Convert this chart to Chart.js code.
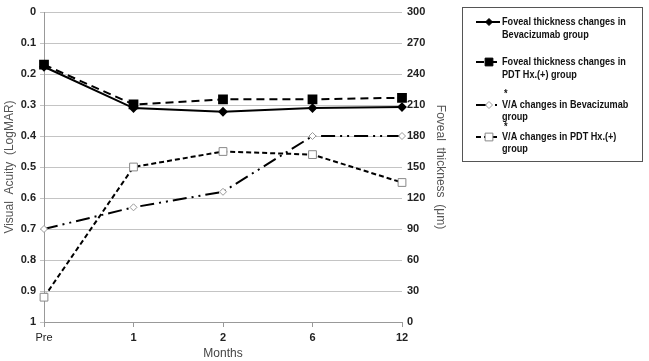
<!DOCTYPE html>
<html><head><meta charset="utf-8">
<script src="https://cdn.jsdelivr.net/npm/chart.js@4.4.0/dist/chart.umd.min.js"></script>
<style>html,body{margin:0;padding:0;background:#fff}#wrap{position:relative;width:649px;height:361px}</style>
</head><body><div id="wrap"><canvas id="c" width="649" height="361"></canvas></div>
<script>
const categories = ['Pre', '1', '2', '6', '12'];
const ftBevacizumab = [247, 207, 203.5, 207, 208];
const ftPDT = [249, 210.5, 215.5, 215.5, 217];
const vaBevacizumab = [0.70, 0.63, 0.58, 0.40, 0.40];
const vaPDT = [0.92, 0.50, 0.45, 0.46, 0.55];
const legendLines = [
  ['Foveal thickness changes in', 'Bevacizumab group'],
  ['Foveal thickness changes in', 'PDT Hx.(+) group'],
  ['*', 'V/A changes in Bevacizumab', 'group'],
  ['*', 'V/A changes in PDT Hx.(+)', 'group']
];

const tickFont = {family: '"Liberation Sans", Arial', size: 11, weight: 'bold'};
const titleFont = {family: '"Liberation Sans", Arial', size: 12};

const legendPlugin = {
  id: 'boxLegend',
  afterDraw(chart) {
    const ctx = chart.ctx;
    ctx.save();
    ctx.strokeStyle = '#555';
    ctx.lineWidth = 1;
    ctx.strokeRect(462.5, 7.5, 180, 154);
    const rows = [
      {y: [22, 35], mk: 22},
      {y: [62, 75], mk: 62},
      {y: [94, 105, 117], mk: 105},
      {y: [127, 137, 149], mk: 137}
    ];
    rows.forEach((r, i) => {
      const ds = chart.data.datasets[i];
      const lines = legendLines[i];
      ctx.save();
      ctx.font = 'bold 11px "Liberation Sans", Arial';
      ctx.fillStyle = '#111';
      ctx.textBaseline = 'middle';
      lines.forEach((t, j) => {
        const x = t === '*' ? 504 : 502;
        ctx.save();
        ctx.translate(x, r.y[j]);
        ctx.scale(0.83, 1);
        ctx.fillText(t, 0, 0);
        ctx.restore();
      });
      ctx.restore();
      const yy = r.mk;
      ctx.beginPath();
      ctx.setLineDash(ds.borderDash || []);
      ctx.lineWidth = 2;
      ctx.strokeStyle = '#000';
      ctx.moveTo(476, yy); ctx.lineTo(500, yy);
      ctx.stroke();
      ctx.setLineDash([]);
      ctx.fillStyle = ds.pointBackgroundColor;
      ctx.strokeStyle = ds.pointBorderColor;
      ctx.lineWidth = 1;
      Chart.helpers.drawPoint(ctx, {pointStyle: ds.pointStyle, radius: ds.pointRadius, rotation: 0, borderWidth: 1}, 489, yy);
    });
    ctx.restore();
  }
};

new Chart(document.getElementById('c'), {
  type: 'line',
  data: {
    labels: categories,
    datasets: [
      {label: 'FT Bevacizumab', data: ftBevacizumab, yAxisID: 'ft', borderColor: '#000', borderWidth: 2,
       pointStyle: 'rectRot', pointRadius: 3.5, pointBackgroundColor: '#000', pointBorderColor: '#000', tension: 0},
      {label: 'FT PDT', data: ftPDT, yAxisID: 'ft', borderColor: '#000', borderWidth: 2, borderDash: [8, 5],
       pointStyle: 'rect', pointRadius: 5.5, pointBackgroundColor: '#000', pointBorderColor: '#000', tension: 0},
      {label: 'VA Bevacizumab', data: vaBevacizumab, yAxisID: 'va', borderColor: '#000', borderWidth: 2, borderDash: [14, 5, 2, 5, 2, 5],
       pointStyle: 'rectRot', pointRadius: 3.5, pointBackgroundColor: '#fff', pointBorderColor: '#999', pointBorderWidth: 1, tension: 0},
      {label: 'VA PDT', data: vaPDT, yAxisID: 'va', borderColor: '#000', borderWidth: 2, borderDash: [5, 3],
       pointStyle: 'rect', pointRadius: 5.5, pointBackgroundColor: '#fff', pointBorderColor: '#888', pointBorderWidth: 1, tension: 0}
    ]
  },
  options: {
    responsive: false,
    animation: false,
    layout: {padding: {top: 12, right: 201, bottom: 0, left: 0}},
    plugins: {legend: {display: false}, tooltip: {enabled: false}},
    scales: {
      x: {
        offset: false,
        grid: {display: true, drawOnChartArea: false, color: '#999', tickLength: 5},
        border: {color: '#999'},
        ticks: {font: c => (c.index === 0 ? {family: '"Liberation Sans", Arial', size: 11, weight: 'normal'} : tickFont),
          color: '#222', padding: 4, maxRotation: 0},
        title: {display: true, text: 'Months', font: titleFont, color: '#444', padding: {top: 2, bottom: 0}},
        afterFit(s) { s.height = 39; }
      },
      va: {
        position: 'left', reverse: true, min: 0, max: 1,
        ticks: {stepSize: 0.1, font: tickFont, color: '#222', padding: 4,
          callback: v => String(Math.round(v * 10) / 10)},
        grid: {color: '#c4c4c4', tickLength: 4},
        border: {color: '#999'},
        title: {display: true, text: 'Visual  Acuity  (LogMAR)', font: titleFont, color: '#555', padding: {top: 2, bottom: 0}},
        afterFit(s) { s.width = 44; }
      },
      ft: {
        position: 'right', min: 0, max: 300,
        ticks: {stepSize: 30, font: tickFont, color: '#222', padding: -3},
        grid: {drawOnChartArea: false, display: false},
        border: {display: false},
        title: {display: true, text: 'Foveal  thickness  (μm)', font: titleFont, color: '#555', padding: 0},
        afterFit(s) { s.width = 46; }
      }
    }
  },
  plugins: [legendPlugin]
});
</script></body></html>
